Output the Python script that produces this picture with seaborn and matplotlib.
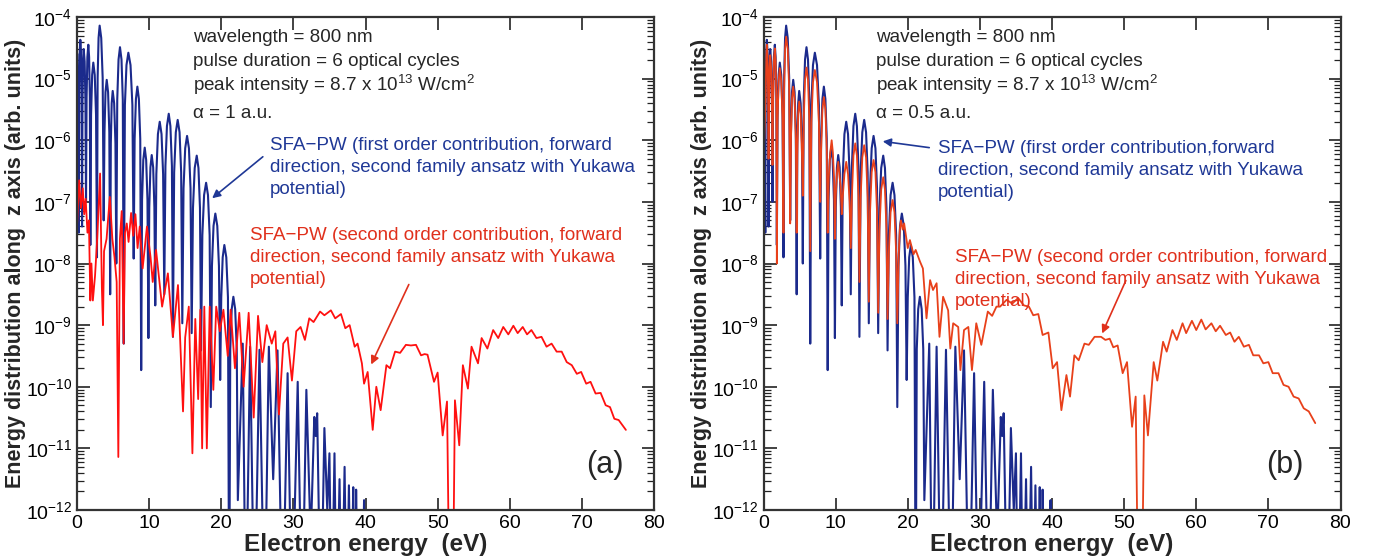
import numpy as np
import pandas as pd
import matplotlib
matplotlib.use("Agg")
import matplotlib.pyplot as plt
import seaborn as sns

# first order contribution (same in both panels): energy (eV), log10 of the distribution
blue_e = [0.05, 0.25, 0.30, 0.38, 0.46, 0.56, 0.64, 0.7, 0.76, 0.84, 0.93, 1.06, 1.17, 1.25,
          1.33, 1.44, 1.57, 1.68, 1.78, 1.85, 1.95, 2.10, 2.26, 2.46, 2.64, 2.77,
          2.86, 2.99, 3.14, 3.36, 3.56, 3.7, 3.81, 3.95, 4.12, 4.31, 4.48, 4.6,
          4.69, 4.81, 4.95, 5.15, 5.33, 5.45, 5.58, 5.76, 5.96, 6.17, 6.35, 6.48,
          6.64, 6.86, 7.12, 7.42, 7.68, 7.86, 7.99, 8.17, 8.37, 8.58, 8.77, 8.9,
          9.02, 9.19, 9.39, 9.59, 9.77, 9.9, 10.02, 10.18, 10.36, 10.56, 10.73, 10.85,
          11.0, 11.22, 11.47, 11.72, 11.94, 12.1, 12.26, 12.47, 12.72, 12.95, 13.16, 13.3,
          13.47, 13.7, 13.96, 14.22, 14.44, 14.6, 14.77, 15.0, 15.26, 15.52, 15.74, 15.9,
          16.08, 16.32, 16.6, 16.84, 17.05, 17.2, 17.38, 17.62, 17.9, 18.16, 18.39, 18.55,
          18.71, 18.93, 19.18, 19.45, 19.68, 19.85, 20.0, 20.2, 20.43, 20.7, 20.93, 21.1,
          21.25, 21.45, 21.68, 21.93, 22.15, 22.3,
          22.98, 23.4, 24.0, 24.6, 25.3, 26.0, 26.6, 27.2, 27.8, 28.5, 29.2, 29.8,
          30.6, 31.2, 31.8, 32.4, 32.9, 33.1, 33.3, 33.8, 34.3, 34.7, 35.0, 35.3, 35.7, 36.0,
          36.4, 36.7, 37.1, 37.4, 37.7, 38.0, 38.3, 38.5, 38.7, 39.0, 39.3, 39.5, 39.8, 40.0]
blue_log = [-4.6, -7.5, -5.22, -4.57, -4.37, -4.57, -5.22, -7.4, -5.37, -4.72, -4.52, -4.72, -5.37, -7.0,
            -5.3, -4.65, -4.45, -4.65, -5.3, -7.7, -5.59, -4.94, -4.74, -4.94, -5.59, -7.9,
            -4.99, -4.34, -4.14, -4.34, -4.99, -7.3, -5.87, -5.22, -5.02, -5.22, -5.87, -8.5,
            -6.05, -5.4, -5.2, -5.4, -6.05, -8.0, -5.34, -4.69, -4.49, -4.69, -5.34, -9.3,
            -5.43, -4.78, -4.58, -4.78, -5.43, -7.92, -5.98, -5.33, -5.13, -5.33, -5.98, -9.73,
            -6.97, -6.32, -6.12, -6.32, -6.97, -9.21, -7.09, -6.44, -6.24, -6.44, -7.09, -8.68,
            -6.55, -5.9, -5.7, -5.9, -6.55, -8.5, -6.42, -5.77, -5.57, -5.77, -6.42, -9.19,
            -6.52, -5.87, -5.67, -5.87, -6.52, -8.97, -6.78, -6.13, -5.93, -6.13, -6.78, -9.13,
            -7.1, -6.45, -6.25, -6.45, -7.1, -9.41, -7.54, -6.89, -6.69, -6.89, -7.54, -10.33,
            -8.04, -7.39, -7.19, -7.39, -8.04, -9.89, -8.55, -7.9, -7.7, -7.9, -8.55, -14,
            -9.39, -8.74, -8.54, -8.74, -9.39, -11.84,
            -9.3, -14, -9.35, -14, -9.4, -14, -9.35, -11.5, -9.41, -14, -9.78, -14,
            -9.92, -14, -10.05, -12.5, -10.49, -10.8, -10.43, -14, -10.67, -12.0, -11.08, -14, -11.08, -14,
            -11.5, -14, -11.3, -14, -11.6, -14, -11.63, -14, -11.67, -14, -12.0, -14, -11.84, -14]

# second order contribution, alpha = 1 a.u.
red_a_e = [0.0, 0.3, 0.55, 0.8, 1.0, 1.2, 1.45, 1.65, 1.85, 2.0, 2.2, 2.5, 2.8, 3.2, 3.45, 3.6, 3.75,
           4.1, 4.55, 4.9, 5.2, 5.5, 5.73, 5.95, 6.2, 6.47, 6.65, 6.9, 7.15, 7.5, 7.8, 8.1, 8.4, 8.7,
           9.1, 9.7, 10.2, 10.5, 10.96, 11.8, 12.6, 13.3, 14.0, 14.7, 15.0, 15.5, 16.0, 16.4, 16.8,
           17.1, 17.35, 17.65, 18.0, 18.4, 18.9, 19.3, 19.8, 20.3, 20.9, 21.3, 21.9, 22.5, 23.1,
           23.8, 24.5, 25.1, 25.7, 26.3, 27.0, 27.5, 28.0, 28.6, 29.2, 29.8, 30.4, 31.0, 31.6, 32.2,
           32.8, 33.7, 34.3, 35.2, 35.8, 36.6, 37.2, 37.8, 38.5, 38.9, 39.5, 39.8, 40.3, 41.0, 41.5,
           42.1, 42.9, 43.4, 44.1, 44.8, 45.6, 46.3, 47.0, 47.7, 48.2, 48.6, 49.5, 50.0, 50.7, 51.3,
           51.9, 52.4, 53.0, 53.5, 54.2, 54.7, 55.6, 56.1, 56.9, 57.7, 58.4, 59.1, 59.8, 60.5, 61.1,
           61.8, 62.4, 63.0, 63.7, 64.4, 65.1, 65.8, 66.5, 67.2, 67.9, 68.6, 69.3, 69.9, 70.6, 71.2,
           71.9, 72.6, 73.3, 73.9, 74.5, 75.1, 76.1]
red_a_log = [-7.4, -6.65, -7.1, -6.78, -7.2, -6.95, -7.5, -7.3, -8.6, -8.0, -8.6, -8.2, -7.6, -6.54, -8.4, -9.0, -7.8,
             -7.6, -6.92, -7.6, -7.9, -8.3, -11.14, -7.6, -7.15, -9.3, -7.5, -7.35, -7.65, -7.18, -7.55, -7.2, -7.75, -7.4,
             -8.08, -7.4, -7.9, -8.3, -7.78, -8.7, -8.16, -9.19, -8.35, -10.4, -9.2, -8.7, -11.08, -8.9, -10.2,
             -8.75, -11.0, -8.7, -11.0, -8.7, -10.05, -8.7, -9.1, -8.75, -9.5, -8.75, -9.7, -8.8, -10.0,
             -8.8, -10.5, -8.85, -9.6, -9.0, -9.3, -9.1, -10.45, -9.3, -9.2, -9.9, -9.1, -9.03, -9.24, -8.89,
             -8.95, -8.78, -8.84, -8.76, -8.89, -8.82, -9.05, -9.0, -9.35, -9.3, -9.62, -9.95, -9.76, -10.7, -10.0,
             -10.38, -9.65, -9.7, -9.43, -9.45, -9.32, -9.33, -9.32, -9.49, -9.47, -9.48, -9.92, -9.77, -10.79, -10.24,
             -16, -10.22, -10.95, -9.65, -10.03, -9.35, -9.62, -9.21, -9.38, -9.08, -9.21, -9.03, -9.15, -9.01, -9.13,
             -9.03, -9.15, -9.08, -9.21, -9.19, -9.35, -9.3, -9.43, -9.43, -9.6, -9.65, -9.79, -9.76, -9.95, -9.92,
             -10.11, -10.1, -10.3, -10.33, -10.52, -10.54, -10.7]

# second order contribution, alpha = 0.5 a.u.
red_b_e = [0.05, 0.30, 0.38, 0.46, 0.56, 0.64, 0.7, 0.76, 0.84, 0.93, 1.06, 1.17, 1.25,
           1.33, 1.44, 1.57, 1.68, 1.78, 1.85, 1.95, 2.10, 2.26, 2.46, 2.64, 2.77,
           2.86, 2.99, 3.14, 3.36, 3.56, 3.7, 3.81, 3.95, 4.12, 4.31, 4.48, 4.6,
           4.69, 4.81, 4.95, 5.15, 5.33, 5.45, 5.58, 5.76, 5.96, 6.17, 6.35, 6.48,
           6.64, 6.86, 7.12, 7.42, 7.68, 7.86, 7.99, 8.17, 8.37, 8.58, 8.77, 8.9,
           9.05, 9.25, 9.45, 9.62, 9.78, 9.9, 10.02, 10.18, 10.36, 10.56, 10.7, 10.85,
           11.0, 11.22, 11.47, 11.72, 11.94, 12.1, 12.26, 12.47, 12.72, 12.95, 13.16, 13.3,
           13.47, 13.7, 13.96, 14.22, 14.44, 14.6, 14.77, 15.0, 15.26, 15.52, 15.74, 15.9,
           16.08, 16.32, 16.6, 16.84, 17.05, 17.2, 17.38, 17.62, 17.9, 18.16, 18.39, 18.55,
           18.75, 18.9, 19.05, 19.3, 19.5, 20.0, 20.3, 20.8, 21.1, 21.7,
           22.1, 22.6, 23.1, 23.5, 24.0, 24.4, 24.9, 25.6, 25.9, 26.3, 27.0, 27.3, 27.8, 28.4, 28.9,
           29.5, 30.2, 31.1, 31.7, 32.3, 32.8, 33.7, 34.5, 35.3, 36.1, 36.8, 37.4, 38.1, 38.7, 39.5,
           40.1, 40.7, 41.3, 42.0, 42.5, 43.1, 43.7, 44.5, 45.1, 45.9, 46.8, 47.4, 48.0, 48.5, 49.1,
           49.8, 50.4, 51.1, 51.6, 52.2, 52.8, 53.3, 54.1, 54.6, 55.4, 55.9, 56.7, 57.3, 58.1, 58.6,
           59.4, 60.0, 60.7, 61.3, 62.1, 62.7, 63.3, 64.1, 64.7, 65.3, 65.9, 66.6, 67.3, 67.9, 68.7,
           69.3, 70.0, 70.6, 71.4, 72.1, 72.8, 73.5, 74.2, 74.9, 75.6, 76.5]
red_b_log = [-6.2, -5.3, -4.65, -4.45, -4.65, -5.3, -6.3, -5.47, -4.82, -4.62, -4.82, -5.47, -6.4,
             -5.36, -4.71, -4.51, -4.71, -5.36, -8.0, -5.68, -5.03, -4.83, -5.03, -5.68, -7.5,
             -5.17, -4.52, -4.32, -4.52, -5.17, -7.35, -5.98, -5.33, -5.13, -5.33, -5.98, -7.5,
             -6.22, -5.57, -5.37, -5.57, -6.22, -6.9, -5.67, -5.02, -4.82, -5.02, -5.67, -7.8,
             -5.71, -5.06, -4.86, -5.06, -5.71, -7.0, -6.15, -5.5, -5.3, -5.5, -6.15, -7.5,
             -6.6, -6.2, -6.0, -6.2, -6.6, -7.6, -6.9, -6.55, -6.35, -6.6, -6.75, -7.2,
             -6.9, -6.55, -6.35, -6.55, -7.0, -7.75, -6.9, -6.25, -6.05, -6.25, -6.9, -8.3,
             -6.93, -6.28, -6.08, -6.28, -6.93, -8.62, -7.17, -6.52, -6.32, -6.52, -7.17, -8.8,
             -7.45, -6.8, -6.6, -6.8, -7.45, -8.9, -7.82, -7.17, -6.97, -7.17, -7.82, -8.97,
             -7.85, -7.45, -7.3, -7.45, -7.35, -7.75, -7.62, -7.85, -7.78, -7.97,
             -8.08, -8.89, -8.27, -8.43, -8.32, -9.19, -8.54, -8.76, -9.38, -8.97, -9.03, -9.73, -9.08, -9.03, -9.73,
             -8.97, -9.32, -8.78, -8.85, -8.7, -8.7, -8.59, -8.65, -8.56, -8.68, -8.7, -8.84, -8.82, -9.16, -9.12,
             -9.7, -9.6, -10.38, -9.81, -10.16, -9.49, -9.57, -9.3, -9.32, -9.19, -9.19, -9.24, -9.22, -9.36, -9.33,
             -9.78, -9.6, -10.65, -10.16, -16, -10.14, -10.79, -9.6, -9.9, -9.27, -9.43, -9.08, -9.24, -8.97, -9.13,
             -8.93, -9.08, -8.91, -9.07, -8.97, -9.1, -9.01, -9.16, -9.12, -9.27, -9.19, -9.35, -9.32, -9.49, -9.49,
             -9.62, -9.6, -9.78, -9.78, -9.97, -10.0, -10.16, -10.19, -10.35, -10.4, -10.59]

xticks = [0, 10, 20, 30, 40, 50, 60, 70, 80]

blue_c = "#1b2a8c"
red_line_a = "#ff1010"
red_line_b = "#e8401a"
red_text = "#e0301c"
blue_text = "#1f3896"

sns.set_style("ticks")
plt.rcParams['font.family'] = ['Liberation Sans', 'DejaVu Sans']
plt.rcParams['mathtext.fontset'] = 'custom'
plt.rcParams['mathtext.rm'] = 'Liberation Sans'
plt.rcParams['mathtext.it'] = 'Liberation Sans:italic'
plt.rcParams['mathtext.bf'] = 'Liberation Sans:bold'

fig = plt.figure(figsize=(13.75, 5.59), dpi=100)
ax_a = fig.add_axes([77/1375, 1 - 510/559, 577/1375, 493/559])
ax_b = fig.add_axes([763.5/1375, 1 - 510/559, 577/1375, 493/559])

blue_df = pd.DataFrame({'energy': blue_e, 'dist': np.power(10.0, blue_log)})
red_a_df = pd.DataFrame({'energy': red_a_e, 'dist': np.power(10.0, red_a_log)})
red_b_df = pd.DataFrame({'energy': red_b_e, 'dist': np.power(10.0, red_b_log)})


def style_axes(ax):
    ax.set_yscale('log')
    ax.set_xlim(0, 80)
    ax.set_ylim(1e-12, 1e-4)
    ax.set_xticks(xticks)
    ax.tick_params(which='both', direction='in', top=True, right=True, colors='#222222',
                   labelcolor='black', labelsize=14)
    ax.tick_params(which='major', length=9, width=1.2)
    ax.tick_params(which='minor', length=5, width=0.9)
    ax.set_yticks([10.0**k for k in range(-12, -3)])
    for s in ax.spines.values():
        s.set_linewidth(1.6)
        s.set_color('#333333')
    ax.set_xlabel('Electron energy  (eV)', fontsize=17.5, fontweight='bold', labelpad=1)
    ax.set_ylabel('Energy distribution along  z axis (arb. units)', fontsize=15.5,
                  fontweight='bold', labelpad=0)


# panel (a)
sns.lineplot(data=blue_df, x='energy', y='dist', ax=ax_a, color=blue_c, linewidth=1.5,
             estimator=None, sort=False)
sns.lineplot(data=red_a_df, x='energy', y='dist', ax=ax_a, color=red_line_a, linewidth=1.3,
             estimator=None, sort=False)
style_axes(ax_a)

# panel (b)
sns.lineplot(data=blue_df, x='energy', y='dist', ax=ax_b, color=blue_c, linewidth=1.5,
             estimator=None, sort=False)
sns.lineplot(data=red_b_df, x='energy', y='dist', ax=ax_b, color=red_line_b, linewidth=1.3,
             estimator=None, sort=False)
style_axes(ax_b)

params = ['wavelength = 800 nm', 'pulse duration = 6 optical cycles',
          r'peak intensity = 8.7 x 10$^{13}$ W/cm$^{2}$']
alphas = ['α = 1 a.u.', 'α = 0.5 a.u.']
blue_lbl = ['SFA−PW (first order contribution, forward\ndirection, second family ansatz with Yukawa\npotential)',
            'SFA−PW (first order contribution,forward\ndirection, second family ansatz with Yukawa\npotential)']
red_lbl = 'SFA−PW (second order contribution, forward\ndirection, second family ansatz with Yukawa\npotential)'


def px(ax, x, y):
    # figure pixel -> axes fraction
    bb = ax.get_position()
    return ((x / 1375 - bb.x0) / bb.width, (1 - y / 559 - bb.y0) / bb.height)


for i, (ax, x0) in enumerate([(ax_a, 193), (ax_b, 876)]):
    for j, t in enumerate(params):
        ax.text(*px(ax, x0, 38 + 23.5 * j), t, transform=ax.transAxes, fontsize=13.6,
                va='center', ha='left')
    ax.text(*px(ax, x0, 113), alphas[i], transform=ax.transAxes, fontsize=13.6,
            va='center', ha='left')

# blue labels and arrows
ax_a.text(*px(ax_a, 270, 137), blue_lbl[0], transform=ax_a.transAxes, fontsize=13.5,
          color=blue_text, va='top', ha='left', linespacing=1.38)
ax_a.annotate('', xy=px(ax_a, 210, 200), xytext=px(ax_a, 265, 155), xycoords='axes fraction',
              arrowprops=dict(arrowstyle='-|>', color=blue_text, lw=1.2, mutation_scale=12))
ax_b.text(*px(ax_b, 938, 140), blue_lbl[1], transform=ax_b.transAxes, fontsize=13.5,
          color=blue_text, va='top', ha='left', linespacing=1.38)
ax_b.annotate('', xy=px(ax_b, 880, 141), xytext=px(ax_b, 932, 148), xycoords='axes fraction',
              arrowprops=dict(arrowstyle='-|>', color=blue_text, lw=1.2, mutation_scale=12))

# red labels and arrows
ax_a.text(*px(ax_a, 250, 227), red_lbl, transform=ax_a.transAxes, fontsize=13.5,
          color=red_text, va='top', ha='left', linespacing=1.38)
ax_a.annotate('', xy=px(ax_a, 370, 367), xytext=px(ax_a, 410, 282), xycoords='axes fraction',
              arrowprops=dict(arrowstyle='-|>', color=red_text, lw=1.2, mutation_scale=12))
ax_b.text(*px(ax_b, 955, 249), red_lbl, transform=ax_b.transAxes, fontsize=13.5,
          color=red_text, va='top', ha='left', linespacing=1.38)
ax_b.annotate('', xy=px(ax_b, 1101, 336), xytext=px(ax_b, 1127, 278), xycoords='axes fraction',
              arrowprops=dict(arrowstyle='-|>', color=red_text, lw=1.2, mutation_scale=12))

ax_a.text(*px(ax_a, 605, 465), '(a)', transform=ax_a.transAxes, fontsize=22,
          va='center', ha='center')
ax_b.text(*px(ax_b, 1285, 465), '(b)', transform=ax_b.transAxes, fontsize=22,
          va='center', ha='center')

fig.savefig('out.png', dpi=100)
